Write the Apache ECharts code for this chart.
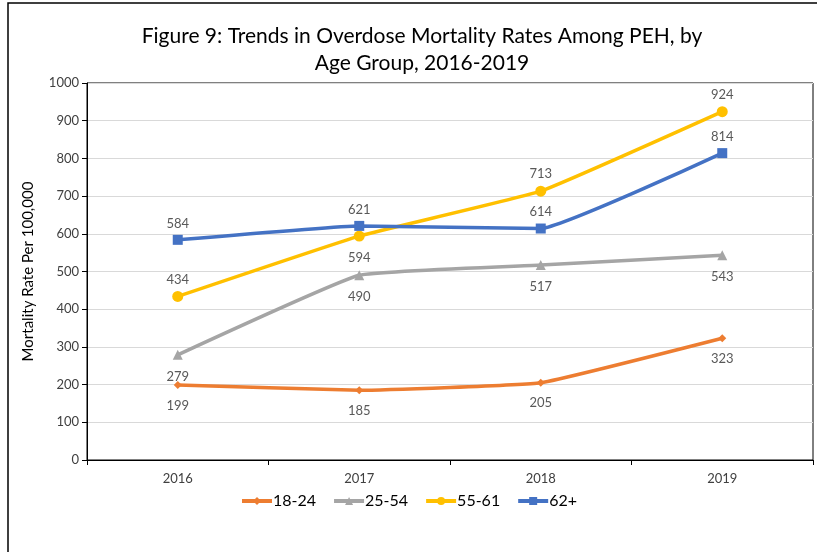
<!DOCTYPE html>
<html>
<head>
<meta charset="utf-8">
<script src="https://cdn.jsdelivr.net/npm/echarts@6/dist/echarts.min.js"></script>
<style>
  html, body { margin: 0; padding: 0; background: #fff; }
  #chart { width: 817px; height: 552px; }
</style>
</head>
<body>
<div id="chart"></div>
<script>
var years = ['2016', '2017', '2018', '2019'];
var age1824 = [199, 185, 205, 323];
var age2554 = [279, 490, 517, 543];
var age5561 = [434, 594, 713, 924];
var age62 = [584, 621, 614, 814];
var pos5561 = ['top', 'bottom', 'top', 'top'];

var chartDom = document.getElementById('chart');
var myChart = echarts.init(chartDom);
var font = 'Lato, "Open Sans", sans-serif';

function labelsFor(values, positions) {
  return values.map(function (v, i) {
    return {
      value: v,
      label: { position: positions[i], distance: positions[i] === 'top' ? 5 : 10 }
    };
  });
}

function makeSeries(name, data, color, symbol, size, pos) {
  return {
    name: name,
    type: 'line',
    data: data,
    smooth: 0.1,
    symbol: symbol,
    symbolSize: size,
    itemStyle: { color: color },
    lineStyle: { color: color, width: 3.5 },
    label: {
      show: true,
      position: pos,
      distance: pos === 'top' ? 5 : 10,
      color: '#595959',
      fontSize: 13,
      fontFamily: font
    }
  };
}

var option = {
  animation: false,
  graphic: [{
    type: 'rect',
    shape: { x: 8, y: 3, width: 900, height: 700 },
    style: { fill: 'none', stroke: '#000', lineWidth: 1.5 },
    silent: true
  }],
  title: {
    text: 'Figure 9: Trends in Overdose Mortality Rates Among PEH, by\nAge Group, 2016-2019',
    left: 417,
    textAlign: 'center',
    top: 18,
    textStyle: {
      fontFamily: font,
      fontSize: 21,
      fontWeight: 'normal',
      color: '#000',
      lineHeight: 27
    }
  },
  legend: {
    data: ['18-24', '25-54', '55-61', '62+'],
    left: 'center',
    top: 488,
    itemWidth: 30,
    itemHeight: 10,
    itemGap: 16,
    lineStyle: { width: 4 },
    textStyle: { fontFamily: font, fontSize: 16, color: '#000', padding: [0, 0, 0, -4] }
  },
  grid: {
    left: 87,
    right: 4,
    top: 83,
    bottom: 92,
    show: true,
    borderColor: '#000',
    borderWidth: 1
  },
  xAxis: {
    type: 'category',
    data: years,
    boundaryGap: true,
    axisLine: { lineStyle: { color: '#000', width: 1 } },
    axisTick: { show: true, length: 5, lineStyle: { color: '#000' } },
    axisLabel: { fontFamily: font, fontSize: 13, color: '#404040', margin: 12 }
  },
  yAxis: {
    type: 'value',
    min: 0,
    max: 1000,
    interval: 100,
    name: 'Mortality Rate Per 100,000',
    nameLocation: 'middle',
    nameGap: 51,
    nameTextStyle: { fontFamily: font, fontSize: 15, color: '#000' },
    axisLine: { show: true, lineStyle: { color: '#000', width: 1 } },
    axisTick: { show: true, length: 5, lineStyle: { color: '#000' } },
    axisLabel: {
      fontFamily: font, fontSize: 13, color: '#404040', margin: 8,
      formatter: function (v) { return String(v); }
    },
    splitLine: { lineStyle: { color: '#d9d9d9', width: 1 } }
  },
  series: [
    makeSeries('18-24', age1824, '#ED7D31', 'diamond', 8, 'bottom'),
    makeSeries('25-54', age2554, '#A5A5A5', 'triangle', 10, 'bottom'),
    makeSeries('55-61', labelsFor(age5561, pos5561), '#FFC000', 'circle', 11, 'top'),
    makeSeries('62+', age62, '#4472C4', 'rect', 10, 'top')
  ]
};

option && myChart.setOption(option);
</script>
</body>
</html>
